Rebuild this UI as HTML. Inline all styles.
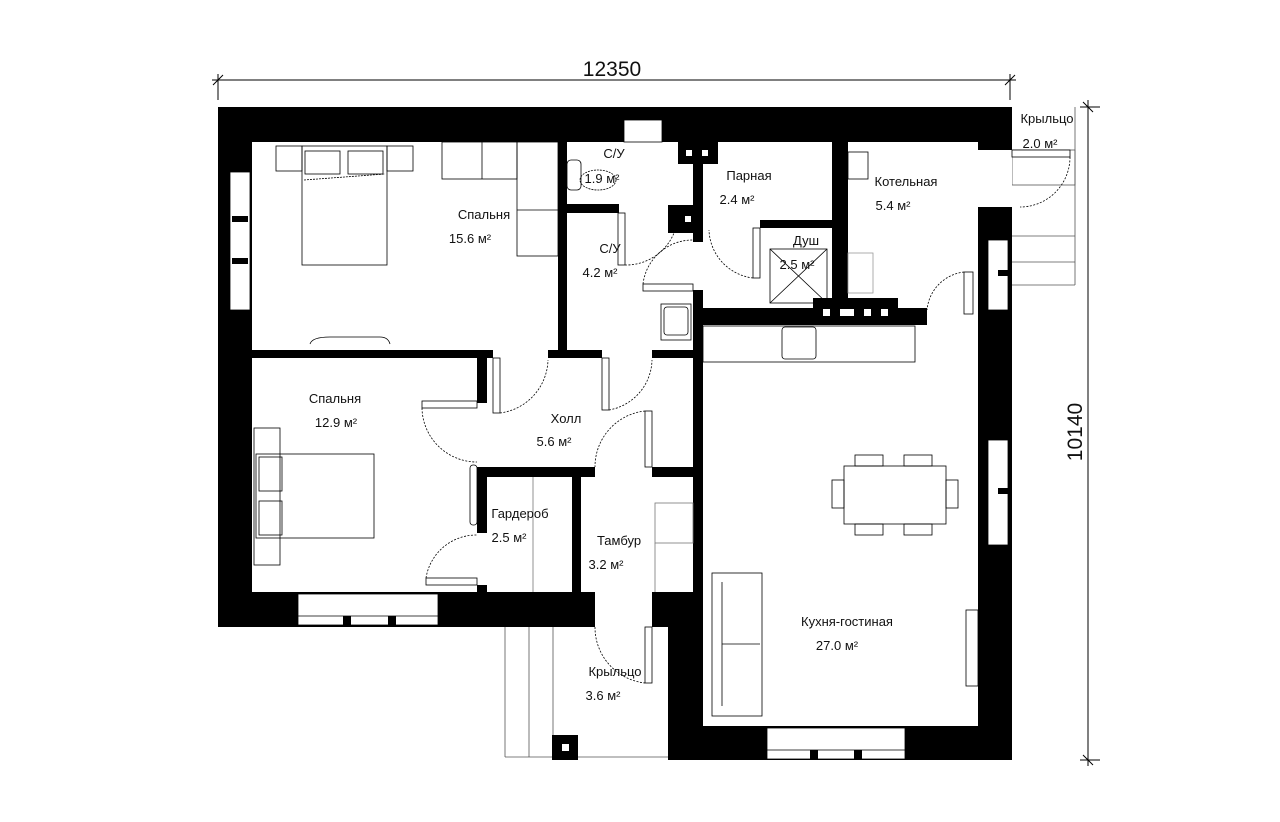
<!DOCTYPE html>
<html><head><meta charset="utf-8"><style>
html,body{margin:0;padding:0;background:#fff;}
svg{display:block;}
text{font-family:"Liberation Sans","DejaVu Sans",sans-serif;font-size:13px;fill:#111;}
</style></head><body>
<svg width="1280" height="822" viewBox="0 0 1280 822" xmlns="http://www.w3.org/2000/svg">
<g stroke="#000" stroke-width="1" fill="none">
<line x1="212" y1="80" x2="1016" y2="80"/>
<line x1="218" y1="74" x2="218" y2="100"/><line x1="1010" y1="74" x2="1010" y2="100"/>
<line x1="213" y1="85" x2="223" y2="75"/><line x1="1005" y1="85" x2="1015" y2="75"/>
<line x1="1088" y1="100" x2="1088" y2="766"/>
<line x1="1080" y1="107" x2="1100" y2="107"/><line x1="1080" y1="760" x2="1100" y2="760"/>
<line x1="1083" y1="102" x2="1093" y2="112"/><line x1="1083" y1="755" x2="1093" y2="765"/>
</g>
<text x="612" y="76" text-anchor="middle" style="font-size:21px">12350</text>
<text transform="translate(1082,432) rotate(-90)" text-anchor="middle" style="font-size:21px">10140</text>

<g stroke="#555" stroke-width="0.8" fill="none">
<rect x="1012" y="150" width="63" height="35"/>
<line x1="1012" y1="236" x2="1075" y2="236"/><line x1="1012" y1="262" x2="1075" y2="262"/>
<line x1="1075" y1="107" x2="1075" y2="285"/><line x1="1012" y1="285" x2="1075" y2="285"/>
<line x1="505" y1="627" x2="505" y2="757"/><line x1="529" y1="627" x2="529" y2="757"/>
<line x1="553" y1="627" x2="553" y2="760"/><line x1="505" y1="757" x2="668" y2="757"/>
</g>

<g fill="#000">
<rect x="218" y="107" width="794" height="35"/>
<rect x="218" y="107" width="34" height="520"/>
<rect x="978" y="107" width="34" height="43"/>
<rect x="978" y="207" width="34" height="553"/>
<rect x="218" y="592" width="377" height="35"/>
<rect x="652" y="592" width="51" height="35"/>
<rect x="668" y="592" width="35" height="168"/>
<rect x="668" y="726" width="344" height="34"/>
<rect x="558" y="142" width="9" height="216"/>
<rect x="252" y="350" width="241" height="8"/>
<rect x="477" y="350" width="10" height="53"/>
<rect x="548" y="350" width="54" height="8"/>
<rect x="652" y="350" width="51" height="8"/>
<rect x="567" y="204" width="52" height="9"/>
<rect x="693" y="142" width="10" height="100"/>
<rect x="678" y="142" width="40" height="22"/>
<rect x="668" y="205" width="35" height="28"/>
<rect x="693" y="290" width="10" height="302"/>
<rect x="703" y="308" width="224" height="17"/>
<rect x="813" y="298" width="85" height="27"/>
<rect x="832" y="142" width="16" height="160"/>
<rect x="760" y="220" width="72" height="8"/>
<rect x="477" y="467" width="118" height="10"/>
<rect x="652" y="467" width="51" height="10"/>
<rect x="477" y="467" width="10" height="66"/>
<rect x="477" y="585" width="10" height="7"/>
<rect x="572" y="477" width="9" height="115"/>
<rect x="552" y="735" width="26" height="25"/>
</g>
<g fill="#fff" stroke="#000" stroke-width="0.8">
<rect x="230" y="172" width="20" height="138"/>
<rect x="298" y="594" width="140" height="31"/>
<rect x="767" y="728" width="138" height="31"/>
<rect x="988" y="240" width="20" height="70"/>
<rect x="988" y="440" width="20" height="105"/>
<rect x="624" y="120" width="38" height="22"/>
</g>
<g stroke="#000" stroke-width="0.8"><line x1="298" y1="616" x2="438" y2="616"/><line x1="767" y1="750" x2="905" y2="750"/></g>
<g fill="#fff">
<rect x="978" y="150" width="34" height="57"/>
<rect x="595" y="592" width="57" height="35"/>
<rect x="686" y="150" width="6" height="6"/><rect x="702" y="150" width="6" height="6"/>
<rect x="685" y="216" width="6" height="6"/>
<rect x="823" y="309" width="7" height="7"/><rect x="840" y="309" width="14" height="7"/><rect x="864" y="309" width="7" height="7"/><rect x="881" y="309" width="7" height="7"/>
<rect x="562" y="744" width="7" height="7"/>
</g>
<g fill="#000"><rect x="232" y="216" width="16" height="6"/><rect x="232" y="258" width="16" height="6"/>
<rect x="343" y="616" width="8" height="10"/><rect x="388" y="616" width="8" height="10"/>
<rect x="810" y="750" width="8" height="10"/><rect x="854" y="750" width="8" height="10"/>
<rect x="998" y="270" width="10" height="6"/><rect x="998" y="488" width="10" height="6"/></g>

<g stroke="#000" stroke-width="0.8" fill="none">
<rect x="302" y="146" width="85" height="119"/>
<rect x="305" y="151" width="35" height="23"/><rect x="348" y="151" width="35" height="23"/>
<line x1="304" y1="180" x2="385" y2="174" stroke-dasharray="2,1"/>
<rect x="276" y="146" width="26" height="25"/><rect x="387" y="146" width="26" height="25"/>
<rect x="442" y="142" width="75" height="37"/><line x1="482" y1="142" x2="482" y2="179"/>
<rect x="517" y="142" width="41" height="114"/><line x1="517" y1="210" x2="558" y2="210"/>
<path d="M310 344 Q312 337 330 337 L380 337 Q388 337 390 344"/>
<rect x="254" y="428" width="26" height="137"/>
<rect x="256" y="454" width="118" height="84"/>
<rect x="259" y="457" width="23" height="34"/><rect x="259" y="501" width="23" height="34"/>
<rect x="470" y="465" width="7" height="60" rx="3"/>
<rect x="567" y="160" width="14" height="30" rx="4"/>
<ellipse cx="598" cy="180" rx="18" ry="10" stroke-dasharray="2,1"/>
<rect x="661" y="304" width="30" height="36"/><rect x="664" y="307" width="24" height="28" rx="3"/>
<rect x="782" y="327" width="34" height="32" rx="3"/>
<rect x="703" y="326" width="212" height="36"/>
<rect x="770" y="249" width="57" height="54"/><line x1="770" y1="249" x2="827" y2="303"/><line x1="827" y1="249" x2="770" y2="303"/>
<rect x="848" y="152" width="20" height="27"/>
<rect x="848" y="253" width="25" height="40" stroke="#999"/>
<rect x="844" y="466" width="102" height="58"/>
<rect x="855" y="455" width="28" height="11"/><rect x="904" y="455" width="28" height="11"/>
<rect x="855" y="524" width="28" height="11"/><rect x="904" y="524" width="28" height="11"/>
<rect x="832" y="480" width="12" height="28"/><rect x="946" y="480" width="12" height="28"/>
<rect x="712" y="573" width="50" height="143"/><line x1="722" y1="582" x2="722" y2="706"/><line x1="722" y1="644" x2="760" y2="644"/>
<rect x="966" y="610" width="12" height="76"/>
<rect x="655" y="503" width="38" height="40" stroke="#777"/><line x1="655" y1="543" x2="655" y2="592" stroke="#777"/>
<line x1="533" y1="477" x2="533" y2="592" stroke="#777"/>
<rect x="422" y="401" width="55" height="7" fill="#fff"/>
<rect x="493" y="358" width="7" height="55" fill="#fff"/>
<rect x="602" y="358" width="7" height="52" fill="#fff"/>
<rect x="645" y="411" width="7" height="56" fill="#fff"/>
<rect x="426" y="578" width="51" height="7" fill="#fff"/>
<rect x="645" y="627" width="7" height="56" fill="#fff"/>
<rect x="618" y="213" width="7" height="52" fill="#fff"/>
<rect x="643" y="284" width="50" height="7" fill="#fff"/>
<rect x="753" y="228" width="7" height="50" fill="#fff"/>
<rect x="964" y="272" width="9" height="42" fill="#fff"/>
<rect x="1012" y="150" width="58" height="7" fill="#fff"/>
</g>
<g stroke="#000" stroke-width="0.8" fill="none" stroke-dasharray="2,1.5">
<path d="M422 408 A55 55 0 0 0 477 462"/>
<path d="M500 413 A55 55 0 0 0 548 360"/>
<path d="M609 410 A52 52 0 0 0 652 360"/>
<path d="M645 411 A56 56 0 0 0 595 467"/>
<path d="M426 578 A51 51 0 0 1 477 535"/>
<path d="M595 627 A56 56 0 0 0 645 683"/>
<path d="M625 265 A52 52 0 0 0 678 213"/>
<path d="M643 284 A50 50 0 0 1 693 240"/>
<path d="M753 278 A50 50 0 0 1 709 230"/>
<path d="M964 272 A42 42 0 0 0 927 310"/>
<path d="M1070 157 A50 50 0 0 1 1020 207"/>
</g>

<text x="484" y="219" text-anchor="middle">Спальня</text>
<text x="470" y="243" text-anchor="middle">15.6 м²</text>
<text x="614" y="158" text-anchor="middle">С/У</text>
<text x="602" y="183" text-anchor="middle">1.9 м²</text>
<text x="610" y="253" text-anchor="middle">С/У</text>
<text x="600" y="277" text-anchor="middle">4.2 м²</text>
<text x="749" y="180" text-anchor="middle">Парная</text>
<text x="737" y="204" text-anchor="middle">2.4 м²</text>
<text x="906" y="186" text-anchor="middle">Котельная</text>
<text x="893" y="210" text-anchor="middle">5.4 м²</text>
<text x="806" y="245" text-anchor="middle">Душ</text>
<text x="797" y="269" text-anchor="middle">2.5 м²</text>
<text x="1047" y="123" text-anchor="middle">Крыльцо</text>
<text x="1040" y="148" text-anchor="middle">2.0 м²</text>
<text x="335" y="403" text-anchor="middle">Спальня</text>
<text x="336" y="427" text-anchor="middle">12.9 м²</text>
<text x="566" y="423" text-anchor="middle">Холл</text>
<text x="554" y="446" text-anchor="middle">5.6 м²</text>
<text x="520" y="518" text-anchor="middle">Гардероб</text>
<text x="509" y="542" text-anchor="middle">2.5 м²</text>
<text x="619" y="545" text-anchor="middle">Тамбур</text>
<text x="606" y="569" text-anchor="middle">3.2 м²</text>
<text x="615" y="676" text-anchor="middle">Крыльцо</text>
<text x="603" y="700" text-anchor="middle">3.6 м²</text>
<text x="847" y="626" text-anchor="middle">Кухня-гостиная</text>
<text x="837" y="650" text-anchor="middle">27.0 м²</text>
</svg>
</body></html>
